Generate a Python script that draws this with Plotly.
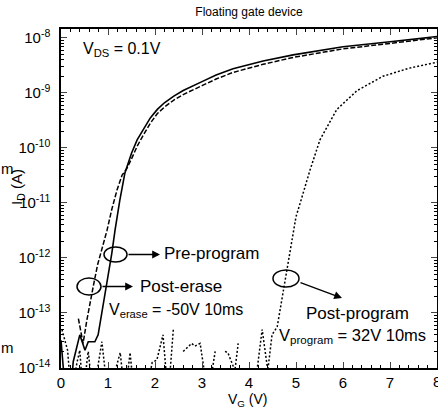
import plotly.graph_objects as go

# ---- data (V_G in volts, I_D in amperes) ----
pre_vg = [0, 0.1, 0.2, 0.26, 0.4, 0.51, 0.58, 0.72, 0.79, 0.87, 0.92, 1.0, 1.08, 1.15, 1.25,
          1.36, 1.5, 1.62, 1.75, 1.9, 2.05, 2.2, 2.4, 2.6, 3.0, 3.3, 3.66, 4.3, 4.94, 5.5,
          6.0, 7.0, 8.0]
pre_id = [3.2e-14, 3e-15, 3e-15, 1.3e-14, 4e-14, 2.1e-14, 3e-14, 3e-14, 4e-14, 1e-13, 1.7e-13,
          4.5e-13, 1.2e-12, 3.2e-12, 1.1e-11, 3.5e-11, 8e-11, 1.4e-10, 2.2e-10, 3.5e-10,
          5e-10, 6.6e-10, 8.7e-10, 1.1e-9, 1.6e-9, 2.1e-9, 2.75e-9, 3.8e-9, 4.9e-9, 5.9e-9,
          6.9e-9, 8.5e-9, 1.05e-8]

erase_vg = [0.37, 0.47, 0.55, 0.62, 0.7, 0.78, 0.87, 0.98, 1.08, 1.19, 1.3, 1.4, 1.5, 1.62,
            1.75, 1.9, 2.05, 2.2, 2.4, 2.6, 3.0, 3.3, 3.66, 4.3, 4.94, 5.5, 6.0, 7.0, 8.0]
erase_id = [7.9e-14, 2.8e-14, 7.4e-14, 1.6e-13, 3.5e-13, 7.6e-13, 1.4e-12, 3.2e-12, 7.6e-12,
            1.7e-11, 3.2e-11, 4.2e-11, 6.3e-11, 1.07e-10, 1.7e-10, 2.8e-10, 4.2e-10,
            5.5e-10, 7.4e-10, 9.3e-10, 1.35e-9, 1.78e-9, 2.35e-9, 3.3e-9, 4.4e-9, 5.4e-9,
            6.3e-9, 7.9e-9, 1e-8]

prog_vg = [0.02, 0.14, 0.22, 0.34, 0.4, 0.47, 0.55, 0.58, 0.68, 0.87, 1.0, 1.26, 1.36, 1.47,
           1.56, 1.8, 1.94, 2.04, 2.17, 2.28, 2.39, 2.5, 2.6, 2.78, 2.85, 2.96, 3.13, 3.28,
           3.4, 3.49, 3.55, 3.7, 3.77, 3.95, 4.17, 4.28, 4.4, 4.49, 4.6, 4.66, 4.78, 4.87,
           5.0, 5.09, 5.3, 5.51, 5.87, 6.3, 6.85, 7.4, 8.0]
prog_id = [5e-14, 2.1e-14, 3e-15, 1.26e-14, 2.1e-14, 3e-15, 1.26e-14, 2e-14, 3e-15, 3e-14,
           3e-15, 1.9e-14, 3e-15, 1.9e-14, 3e-15, 3e-15, 1.26e-14, 1.4e-14, 4e-14, 3e-15,
           5e-14, None, 2e-14, 2.8e-14, 2.5e-14, 2.8e-14, 3e-15, 2e-14, None, 2e-14,
           1.9e-14, 9e-15, 2.8e-14, None, 9e-15, 5e-14, 9e-15, 4e-14, 5.6e-14, 1.1e-13,
           4e-13, 1.26e-12, 5.6e-12, 1e-11, 4e-11, 1.4e-10, 5e-10, 1.1e-9, 2e-9, 2.8e-9,
           3.6e-9]

x_ticks = [0, 1, 2, 3, 4, 5, 6, 7, 8]
y_ticks = [1e-14, 1e-13, 1e-12, 1e-11, 1e-10, 1e-9, 1e-8]
y_tick_text = ["10<sup>-14</sup>", "10<sup>-13</sup>", "10<sup>-12</sup>", "10<sup>-11</sup>",
               "10<sup>-10</sup>", "10<sup>-9</sup>", "10<sup>-8</sup>"]

# ---- layout geometry (pixels) ----
W, H = 438, 410
L, R, T, B = 61, 1, 29, 42
PW, PH = W - L - R, H - T - B


def px(xp):
    return (xp - L) / PW


def py(yp):
    return (H - B - yp) / PH


FONT = "Liberation Sans, Arial, sans-serif"

fig = go.Figure()
fig.add_trace(go.Scatter(x=pre_vg, y=pre_id, mode="lines", name="Pre-program",
                         line=dict(color="black", width=1.6)))
fig.add_trace(go.Scatter(x=erase_vg, y=erase_id, mode="lines", name="Post-erase",
                         line=dict(color="black", width=1.5, dash="5px,2px")))
fig.add_trace(go.Scatter(x=prog_vg, y=prog_id, mode="lines", name="Post-program",
                         connectgaps=False,
                         line=dict(color="black", width=1.5, dash="2px,2px")))

minor_y = [m * 10.0 ** e for e in range(-14, -7) for m in range(2, 10)]

fig.update_layout(
    width=W, height=H,
    margin=dict(l=L, r=R, t=T, b=B, autoexpand=False),
    paper_bgcolor="white", plot_bgcolor="white",
    showlegend=False,
    font=dict(family=FONT, color="black"),
    title=dict(text="Floating gate device", x=px(249), xref="paper", xanchor="center",
               y=1 - 12 / H, yanchor="middle", font=dict(size=12, family=FONT)),
    xaxis=dict(range=[0, 8], tickvals=x_ticks, ticks="inside", ticklen=6, tickwidth=1.3,
               showline=True, linecolor="black", linewidth=1.5, mirror="ticks",
               showgrid=False, zeroline=False, tickfont=dict(size=15),
               ticklabelstandoff=0, automargin=False,
               minor=dict(dtick=0.2, ticks="inside", ticklen=3, tickcolor="black",
                          tickwidth=1, showgrid=False)),
    yaxis=dict(type="log", range=[-14, -7.84], tickvals=y_ticks, ticktext=y_tick_text,
               ticks="inside", ticklen=6, tickwidth=1.3,
               showline=True, linecolor="black", linewidth=1.5, mirror="ticks",
               showgrid=False, zeroline=False, tickfont=dict(size=15),
               ticklabelstandoff=6, automargin=False,
               minor=dict(tickvals=minor_y, ticks="inside", ticklen=3, tickcolor="black",
                          tickwidth=1, showgrid=False)),
)

ann = []


def text(xp, yp, s, size=16, anchor="left", angle=0):
    ann.append(dict(x=px(xp), y=py(yp), xref="paper", yref="paper", text=s, showarrow=False,
                    xanchor=anchor, yanchor="middle", textangle=angle,
                    font=dict(size=size, family=FONT, color="black")))


text(81, 49, "V<sub>DS</sub> = 0.1V", size=16)
text(162, 254, "Pre-program", size=17)
text(138, 286, "Post-erase", size=17)
text(107, 310, "V<sub>erase</sub> = -50V 10ms", size=16)
text(304, 313, "Post-program", size=17)
text(277, 336, "V<sub>program</sub> = 32V 10ms", size=16.5)
text(17, 187, "I<sub>D</sub> (A)", size=15, anchor="center", angle=-90)
text(248, 400, "V<sub>G</sub> (V)", size=14, anchor="center")
text(-1, 168, "m", size=15)
text(-1, 347, "m", size=15)
# the right-most tick label "8" is cut by the image edge, as in the reference
text(437, 381, str(x_ticks[-1]), size=15, anchor="center")


def arrow(tx, ty, sx, sy):
    ann.append(dict(x=px(tx), y=py(ty), xref="paper", yref="paper", text="",
                    showarrow=True, ax=sx - tx, ay=sy - ty, arrowhead=2, arrowsize=1.2,
                    arrowwidth=1.3, arrowcolor="black", standoff=0, startstandoff=0))


arrow(160, 254.5, 127, 254.5)
arrow(133, 286.5, 101, 286.5)
arrow(342, 298, 299, 282)

fig.update_layout(annotations=ann)


def ellipse(x0, y0, x1, y1):
    fig.add_shape(type="circle", xref="paper", yref="paper",
                  x0=px(x0), x1=px(x1), y0=py(y0), y1=py(y1),
                  line=dict(color="black", width=1.5))


ellipse(104, 247, 127, 262)
ellipse(77, 278, 101, 295)
ellipse(273, 270, 299, 287)

fig.write_html("out.html", config={"displayModeBar": False},
               post_script="document.body.style.margin='0px';document.body.style.overflow='hidden';")
